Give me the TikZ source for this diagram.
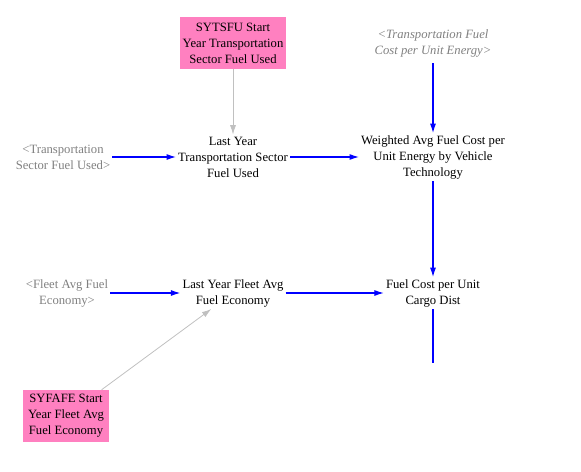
\documentclass[tikz,border=0pt]{standalone}
\usepackage{fontspec}
\setmainfont{Liberation Serif}
\usepackage{tikz}
\usetikzlibrary{arrows.meta,positioning}

\definecolor{pinkbox}{HTML}{FF80C0}
\definecolor{shadowgray}{HTML}{808080}
\definecolor{initgray}{HTML}{C0C0C0}

\begin{document}
\begin{tikzpicture}[x=0.75pt, y=-0.75pt,
        var/.style={align=center, inner sep=1.5pt, font=\fontsize{9.5}{12}\selectfont},
        shadow/.style={var, text=shadowgray},
        startbox/.style={var, fill=pinkbox, minimum width=78pt, minimum height=39pt, inner sep=2pt},
        link/.style={draw=blue, line width=0.8pt, -{Latex[length=7pt,width=4.5pt]}},
        initlink/.style={draw=initgray, line width=0.6pt, -{Latex[length=7pt,width=4.5pt]}}]
        \useasboundingbox (0,0) rectangle (581,471);

        \node[startbox] (SYTSFU) at (233,43) {SYTSFU Start\\Year Transportation\\Sector Fuel Used};
        \node[shadow, font=\fontsize{9.5}{12}\selectfont\itshape] (TFC) at (433,43) {<Transportation Fuel\\Cost per Unit Energy>};
        \node[shadow] (TSFU) at (63,157) {<Transportation\\Sector Fuel Used>};
        \node[var] (LYTSFU) at (233,157) {Last Year\\Transportation Sector\\Fuel Used};
        \node[var] (WAFC) at (433,157) {Weighted Avg Fuel Cost per\\Unit Energy by Vehicle\\Technology};
        \node[shadow] (FAFE) at (67,293) {<Fleet Avg Fuel\\Economy>};
        \node[var] (LYFAFE) at (233,293) {Last Year Fleet Avg\\Fuel Economy};
        \node[var] (FCCD) at (433,293) {Fuel Cost per Unit\\Cargo Dist};
        \node[startbox, minimum width=64pt] (SYFAFE) at (66,416) {SYFAFE Start\\Year Fleet Avg\\Fuel Economy};
        \coordinate (out) at (433,363);

        \path (SYTSFU) edge [initlink] (LYTSFU)
              (SYFAFE) edge [initlink] (LYFAFE)
              (TSFU) edge [link] (LYTSFU)
              (LYTSFU) edge [link] (WAFC)
              (TFC) edge [link, shorten <=3pt] (WAFC)
              (WAFC) edge [link] (FCCD)
              (FAFE) edge [link] (LYFAFE)
              (LYFAFE) edge [link] (FCCD);
        \draw[blue, line width=0.8pt] (FCCD) -- (out);
    \end{tikzpicture}
\end{document}
